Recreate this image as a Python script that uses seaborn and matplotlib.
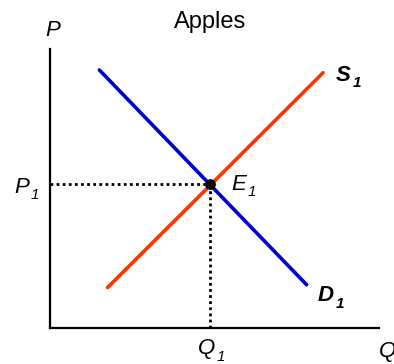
import numpy as np
import pandas as pd
import matplotlib
matplotlib.use('Agg')
import matplotlib.pyplot as plt
import seaborn as sns

sns.set_style('white')
plt.rcParams.update({
    'font.family': ['Liberation Sans', 'DejaVu Sans'],
    'text.color': 'black',
})

# Supply / demand data (quantity, price on a 0-10 scale)
demand_q = [1.5, 7.8]
demand_p = [9.25, 1.55]
supply_q = [1.75, 8.3]
supply_p = [1.45, 9.15]
eq_q = 4.87
eq_p = 5.15
title = 'Apples'

demand = pd.DataFrame({'Q': demand_q, 'P': demand_p})
supply = pd.DataFrame({'Q': supply_q, 'P': supply_p})

fig = plt.figure(figsize=(3.94, 3.64), dpi=100)
ax = fig.add_axes([50 / 394, 36 / 364, 329 / 394, 279 / 364])

sns.lineplot(data=demand, x='Q', y='P', color='#0000CC', linewidth=2.6, ax=ax)
sns.lineplot(data=supply, x='Q', y='P', color='#FF3300', linewidth=2.6, ax=ax)

# dotted guides to the axes
ax.plot([0, eq_q], [eq_p, eq_p], color='black', linestyle=(0, (1, 1.2)), linewidth=2)
ax.plot([eq_q, eq_q], [0, eq_p], color='black', linestyle=(0, (1, 1.2)), linewidth=2)
ax.scatter([eq_q], [eq_p], s=45, color='black', zorder=5)

ax.set_xlim(0, 10)
ax.set_ylim(0, 10)
ax.set_xticks([])
ax.set_yticks([])
ax.set_xlabel('')
ax.set_ylabel('')
sns.despine(ax=ax)
for side in ['left', 'bottom']:
    ax.spines[side].set_linewidth(1.6)
    ax.spines[side].set_color('black')

fs = 16
sub_fs = 11


def label(main, xy, offset, ha='left', bold=False, sub='1'):
    weight = 'bold' if bold else 'normal'
    t = ax.annotate(main, xy=xy, xytext=offset, textcoords='offset points',
                    ha=ha, va='baseline', fontsize=fs, style='italic',
                    weight=weight, annotation_clip=False)
    if sub:
        ax.annotate(sub, xy=(1, 0), xycoords=t, xytext=(1.5, -1),
                    textcoords='offset points', ha='left', va='baseline',
                    fontsize=sub_fs, style='italic', weight=weight,
                    annotation_clip=False)
    return t


label('P', (0, 10), (2, 9.5), ha='center', sub=None)
label('Q', (10, 0), (0, -21), ha='left', sub=None)
ax.annotate(title, xy=(eq_q, 10), xytext=(0, 15), textcoords='offset points',
            ha='center', va='baseline', fontsize=17, annotation_clip=False)
label('P', (0, eq_p), (-26, -6), ha='left')
label('Q', (eq_q, 0), (-3, -19), ha='center')
label('E', (eq_q, eq_p), (15, -4), ha='left')
label('S', (supply_q[-1], supply_p[-1]), (9, -6), ha='left', bold=True)
label('D', (demand_q[-1], demand_p[-1]), (8, -12), ha='left', bold=True)

fig.savefig('out.png', dpi=100)
